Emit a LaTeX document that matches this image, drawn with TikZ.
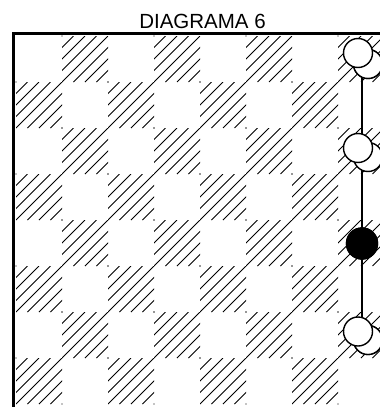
\documentclass[tikz,border=0pt]{standalone}
\usepackage{fontspec}
\setmainfont{Liberation Sans}
\begin{document}
\begin{tikzpicture}[x=1pt,y=-1pt,
  hatch/.style={line width=1pt},
  piece/.style={circle, draw, line width=1.4pt, fill=white, minimum size=29pt, inner sep=0pt},
  blackpiece/.style={circle, draw, line width=1.4pt, fill=black, minimum size=31pt, inner sep=0pt},
  border/.style={line width=3pt},
  moveline/.style={line width=1.3pt}]
\useasboundingbox (0,0) rectangle (380,407);
\begin{scope}
\clip (0,0) rectangle (380,407);
\foreach \r in {0,...,7}{
  \foreach \c in {0,...,7}{
    \pgfmathtruncatemacro\odd{mod(\r+\c,2)}
    \ifnum\odd=1
      \begin{scope}
        \clip ({16+46*\c},{36+46*\r}) rectangle ++(46,46);
        \foreach \k in {1,...,7}{
          \draw[hatch] ({16+46*\c+\k*11.5-46},{36+46*\r+46}) -- ++(46,-46);
        }
      \end{scope}
      \fill ({16+46*\c},{36+46*\r}) circle (0.6);
      \fill ({16+46*\c+46},{36+46*\r+46}) circle (0.6);
    \fi
  }
}
% pieces
\node[blackpiece] (b) at (362,243.5) {};
\node[piece] (k1b) at (368,64) {};
\node[piece] (k3b) at (368,340) {};
\draw[moveline] (k1b.center -| b.center) -- (k3b.center -| b.center);
\node[piece] (k1b) at (368,64) {};
\node[piece] (k1) at (358,53) {};
\node[piece] (k2b) at (368,157) {};
\node[piece] (k2) at (358,148) {};
\node[blackpiece] (b) at (362,243.5) {};
\node[piece] (k3b) at (368,340) {};
\node[piece] (k3) at (358,331.5) {};
\end{scope}
\draw[border] (13.5,407) -- (13.5,33.5) -- (380,33.5);
\node[font=\fontsize{20.5}{24}\selectfont, anchor=base, inner sep=0pt] (t) at (202.5,28) {DIAGRAMA 6};
\end{tikzpicture}
\end{document}
